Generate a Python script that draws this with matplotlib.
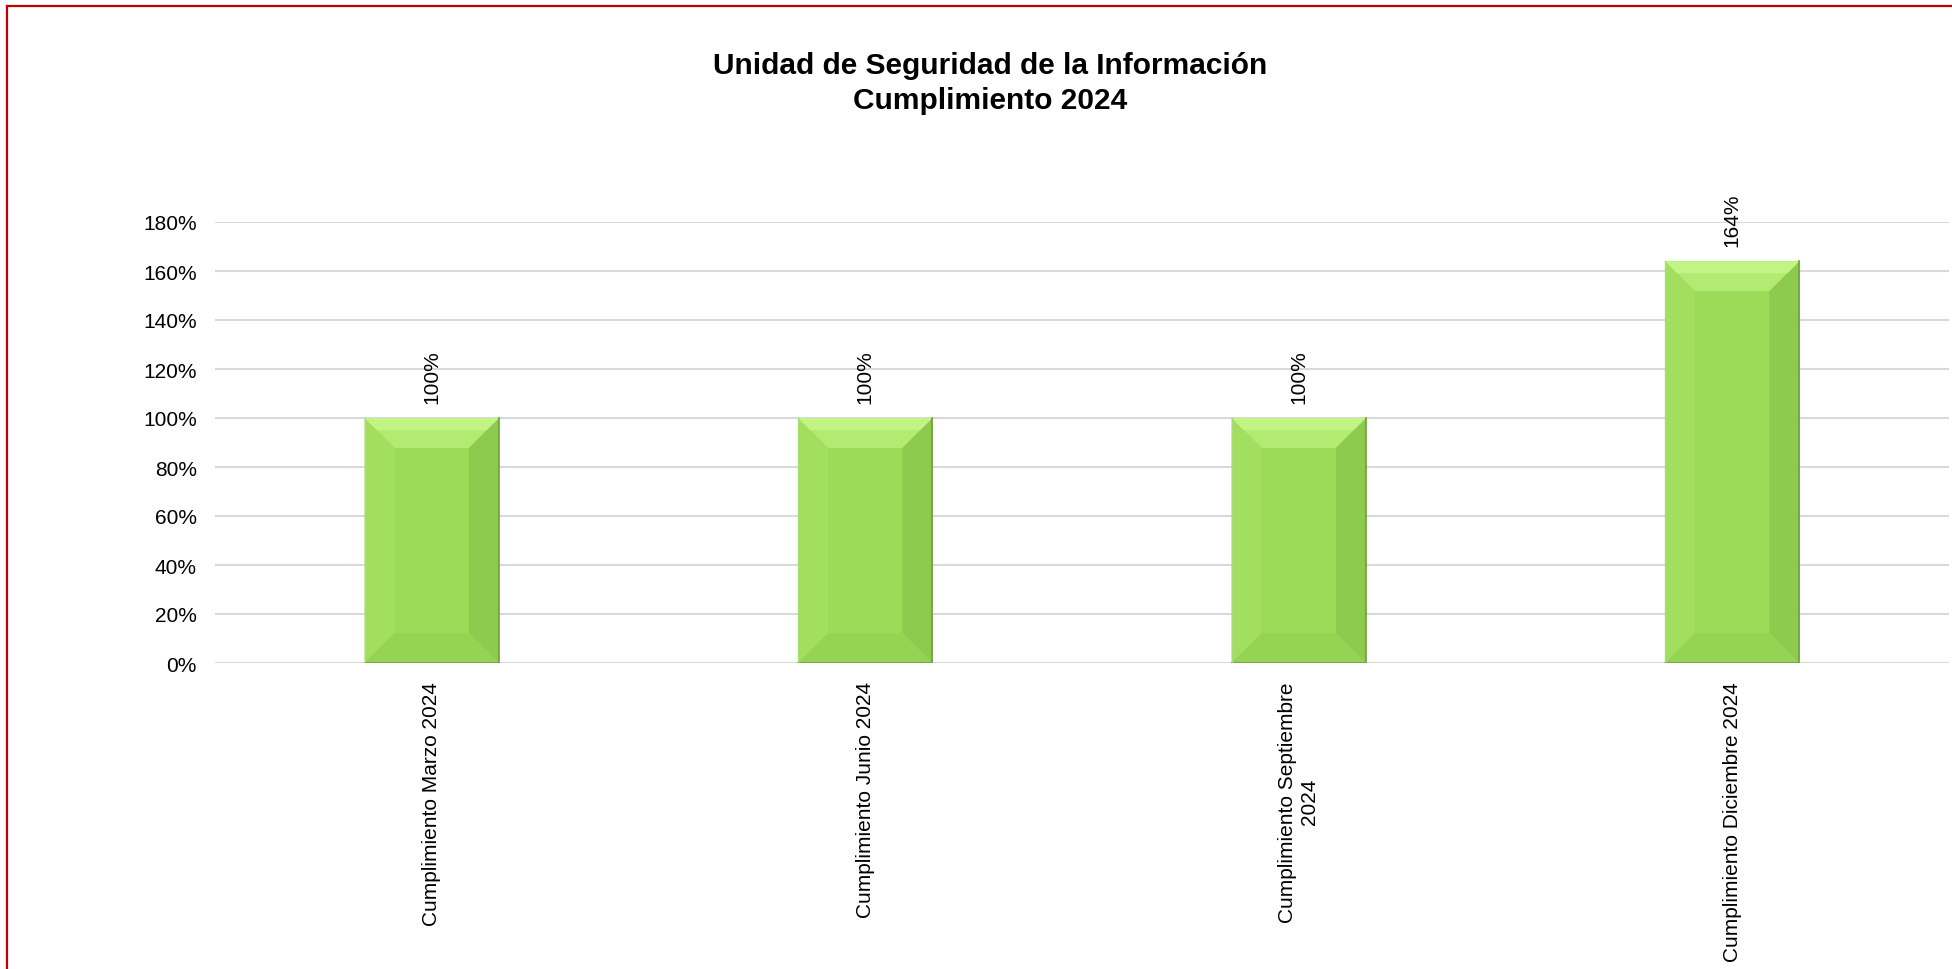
import matplotlib.pyplot as plt
from matplotlib.patches import Polygon
from matplotlib.lines import Line2D

plt.rcParams['font.family'] = ['Liberation Sans', 'DejaVu Sans']

# datos
categorias = ["Cumplimiento Marzo 2024", "Cumplimiento Junio 2024",
              "Cumplimiento Septiembre\n2024", "Cumplimiento Diciembre 2024"]
valores = [100, 100, 100, 164]
ticks_y = [0, 20, 40, 60, 80, 100, 120, 140, 160, 180]

W, H = 1952, 970
fig = plt.figure(figsize=(W / 100, H / 100), dpi=100)
ax = fig.add_axes([215 / W, (H - 664) / H, (1949 - 215) / W, (664 - 223) / H])

ancho = 0.31
x = list(range(len(categorias)))
barras = ax.bar(x, valores, width=ancho, color="#9CDB58", zorder=2)

ax.set_xlim(-0.5, len(categorias) - 0.5)
ax.set_ylim(0, 180)

# efecto bisel (en unidades de datos, ~30 px)
bx = 30 / 433
by = 30 * 20 / 49
for i, b in enumerate(barras):
    x0, x1 = b.get_x(), b.get_x() + b.get_width()
    y0, y1 = 0, b.get_height()
    caras = [
        ([(x0, y1), (x1, y1), (x1 - bx, y1 - by), (x0 + bx, y1 - by)], "#B2EA72"),
        ([(x0, y0), (x0, y1), (x0 + bx, y1 - by), (x0 + bx, y0 + by)], "#A2DF61"),
        ([(x1, y0), (x1, y1), (x1 - bx, y1 - by), (x1 - bx, y0 + by)], "#8DCB4E"),
        ([(x0, y0), (x1, y0), (x1 - bx, y0 + by), (x0 + bx, y0 + by)], "#95D355"),
    ]
    for pts, col in caras:
        ax.add_patch(Polygon(pts, closed=True, facecolor=col, edgecolor="none", zorder=3))
    # franja clara en la parte alta
    ax.add_patch(Polygon([(x0, y1), (x1, y1), (x1 - bx * 0.4, y1 - by * 0.4),
                          (x0 + bx * 0.4, y1 - by * 0.4)], closed=True,
                         facecolor="#C2F483", edgecolor="none", zorder=3))
    ax.plot([x1, x1, x0], [y1, y0, y0], color="#6E9F3C", lw=1.2, zorder=4)
    ax.plot([x0, x0], [y0, y1], color="#A9DC72", lw=1.0, zorder=4)
    ax.text(b.get_x() + b.get_width() / 2, y1 + 6.2, f"{valores[i]}%",
            rotation=90, ha="center", va="bottom", fontsize=15, clip_on=False)

ax.set_yticks(ticks_y)
ax.set_yticklabels([f"{t}%" for t in ticks_y])
ax.set_xticks(x)
ax.set_xticklabels(categorias, rotation=90, ha="center", va="top", multialignment="center")
ax.tick_params(axis="both", length=0, labelsize=15, colors="black")
ax.tick_params(axis="y", pad=13)
ax.tick_params(axis="x", pad=13)

ax.yaxis.grid(True, color="#D9D9D9", lw=1.5, zorder=0)
ax.set_axisbelow(True)
for s in ax.spines.values():
    s.set_visible(False)

fig.text(990 / W, 1 - 66 / H, "Unidad de Seguridad de la Información",
         ha="center", va="center", fontsize=21.5, fontweight="bold")
fig.text(990 / W, 1 - 101 / H, "Cumplimiento 2024",
         ha="center", va="center", fontsize=21.5, fontweight="bold")

# borde rojo
fig.add_artist(Line2D([7 / W, 7 / W], [0, 1 - 7 / H], transform=fig.transFigure,
                      color="#C00000", lw=1.6))
fig.add_artist(Line2D([7 / W, 1], [1 - 7 / H, 1 - 7 / H], transform=fig.transFigure,
                      color="#C00000", lw=1.6))

fig.savefig("out.png", dpi=100)
